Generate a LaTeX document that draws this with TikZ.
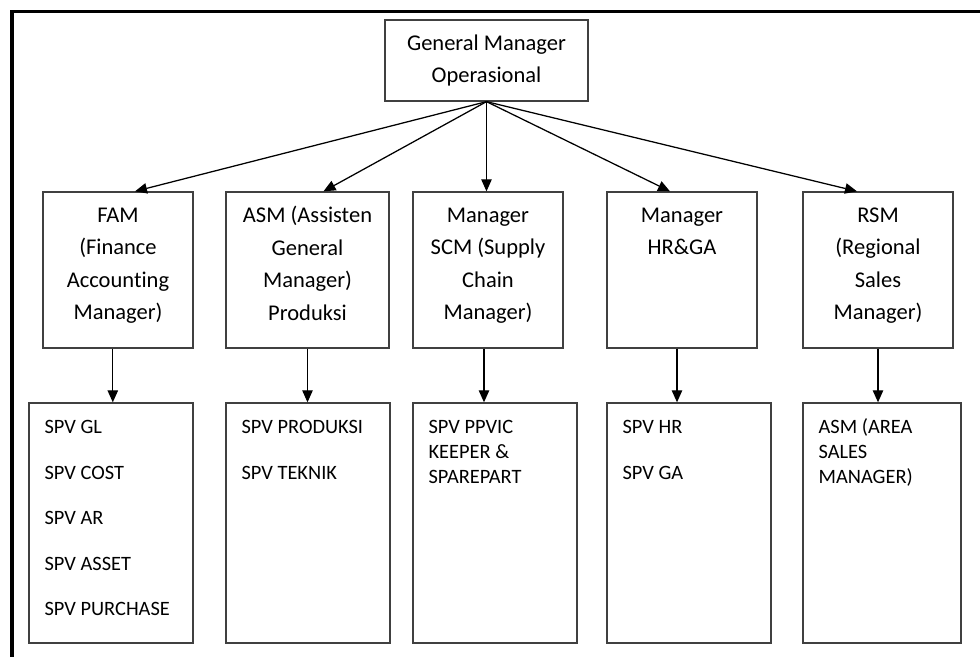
\documentclass[tikz,border=0pt]{standalone}
\usepackage{fontspec}
\setmainfont[Ligatures=NoCommon]{Carlito}
\usetikzlibrary{arrows.meta,positioning}

\begin{document}
\begin{tikzpicture}[x=0.025cm,y=-0.025cm]
        % Define styles
        \tikzset{
            box/.style={rectangle, draw=black!75, line width=0.9pt},
            mgrbox/.style={box, minimum width=3.75cm, minimum height=3.9cm},
            spvbox/.style={box, minimum width=4.1cm, minimum height=6cm},
            mgrtext/.style={align=center, inner sep=0pt, font=\fontsize{16}{23.1}\selectfont},
            spvlist/.style={align=left, inner sep=0pt, font=\fontsize{14.5}{32.4}\selectfont},
            spvtext/.style={align=left, inner sep=0pt, font=\fontsize{14.5}{17.8}\selectfont},
            arrow/.style={-{Triangle[length=0.3cm,width=0.26cm]}, line width=0.9pt}
        }
        \useasboundingbox (0,0) rectangle (980,657);

        % Frame
        \draw[line width=2.2pt] (12,657) -- (12,11.5) -- (980,11.5);

        % Top
        \node[box, minimum width=5.075cm, minimum height=2.025cm, align=center, font=\fontsize{16}{22.8}\selectfont] (gm) at (486.5,60.5) {General Manager\\Operasional};

        % Managers
        \node[mgrbox] (fam) at (118,270) {};
        \node[mgrbox, minimum width=4.075cm] (asm) at (307.5,270) {};
        \node[mgrbox] (scm) at (488,270) {};
        \node[mgrbox] (hrga) at (682,270) {};
        \node[mgrbox] (rsm) at (878,270) {};

        \node[mgrtext, below=0.4cm of fam.north] (famtext) {FAM\\(Finance\\Accounting\\Manager)};
        \node[mgrtext, below=0.37cm of asm.north] (asmtext) {ASM (Assisten\\General\\Manager)\\Produksi};
        \node[mgrtext, below=0.4cm of scm.north] (scmtext) {Manager\\SCM (Supply\\Chain\\Manager)};
        \node[mgrtext, below=0.4cm of hrga.north] (hrgatext) {Manager\\HR\&GA};
        \node[mgrtext, below=0.4cm of rsm.north] (rsmtext) {RSM\\(Regional\\Sales\\Manager)};

        % Supervisors
        \node[spvbox] (famspv) at (111,523) {};
        \node[spvbox] (asmspv) at (308,523) {};
        \node[spvbox] (scmspv) at (495,523) {};
        \node[spvbox] (hrspv) at (689,523) {};
        \node[spvbox, minimum width=3.95cm] (rsmspv) at (882,523) {};

        \node[spvlist, below right=0.44cm and 0.4cm of famspv.north west] (famspvtext) {SPV GL\\SPV COST\\SPV AR\\SPV ASSET\\SPV PURCHASE};
        \node[spvlist, below right=0.44cm and 0.4cm of asmspv.north west] (asmspvtext) {SPV PRODUKSI\\SPV TEKNIK};
        \node[spvtext, below right=0.44cm and 0.4cm of scmspv.north west] (scmspvtext) {SPV PPVIC\\KEEPER \&\\SPAREPART};
        \node[spvlist, below right=0.44cm and 0.4cm of hrspv.north west] (hrspvtext) {SPV HR\\SPV GA};
        \node[spvtext, below right=0.4cm and 0.4cm of rsmspv.north west] (rsmspvtext) {ASM (AREA\\SALES\\MANAGER)};

        % Arrows
        \draw[arrow] (gm.south) -- ([xshift=0.425cm]fam.north);
        \draw[arrow] (gm.south) -- ([xshift=0.4cm]asm.north);
        \draw[arrow] (gm.south) -- (gm.south |- scm.north);
        \draw[arrow] (gm.south) -- ([xshift=-0.3cm]hrga.north);
        \draw[arrow] (gm.south) -- ([xshift=-0.525cm]rsm.north);

        \draw[arrow] ([xshift=-0.13cm]fam.south) -- ([xshift=-0.13cm]fam.south |- famspv.north);
        \draw[arrow] (asm.south) -- (asm.south |- asmspv.north);
        \draw[arrow] ([xshift=-0.1cm]scm.south) -- ([xshift=-0.1cm]scm.south |- scmspv.north);
        \draw[arrow] ([xshift=-0.125cm]hrga.south) -- ([xshift=-0.125cm]hrga.south |- hrspv.north);
        \draw[arrow] (rsm.south) -- (rsm.south |- rsmspv.north);
    \end{tikzpicture}
\end{document}
